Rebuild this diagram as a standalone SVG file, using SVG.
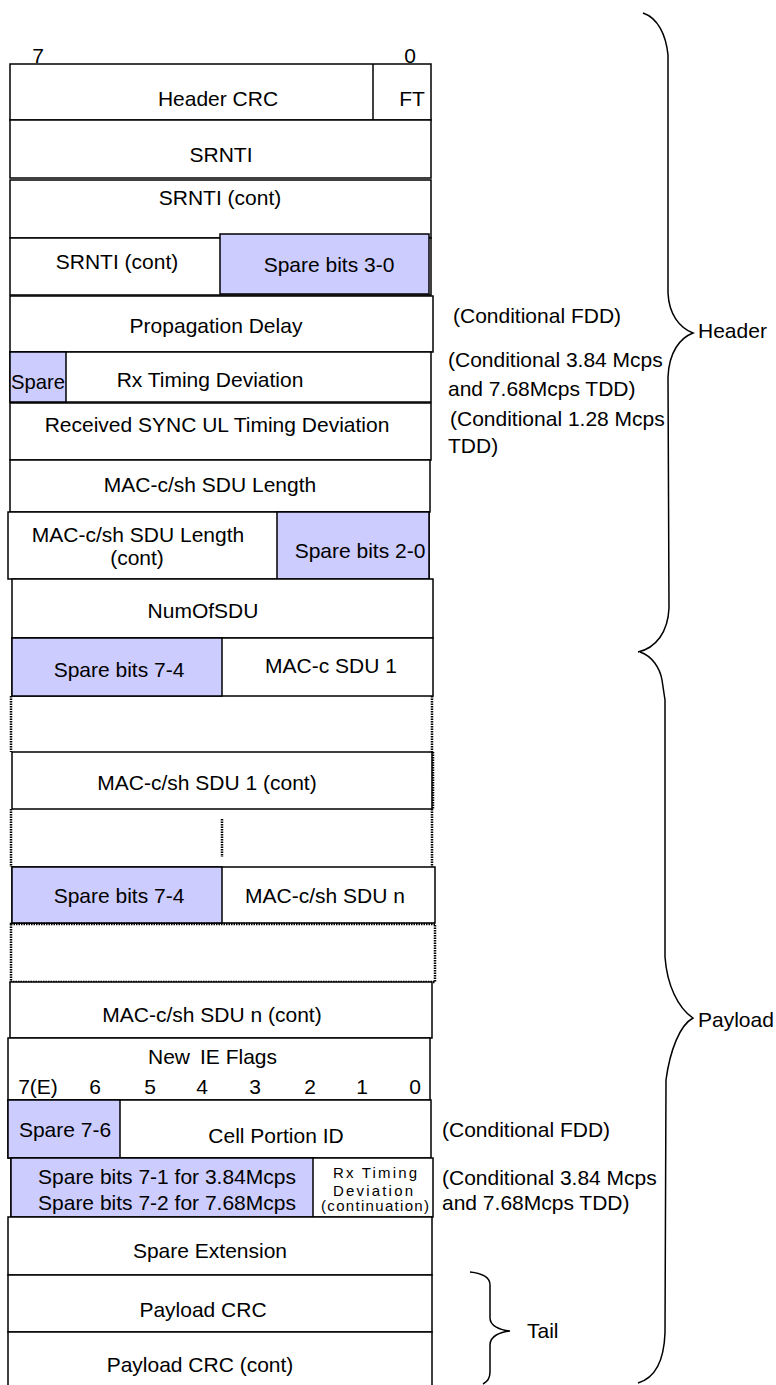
<svg xmlns="http://www.w3.org/2000/svg" width="776" height="1385" viewBox="0 0 776 1385">
<style>
text{font-family:"Liberation Sans",Arial,sans-serif;font-size:21px;fill:#000}
.m{text-anchor:middle}
.s{font-size:15px}
.b{fill:#fff;stroke:#000;stroke-width:1.5}
.sp{fill:#ccccff;stroke:#000;stroke-width:1.5}
.ln{stroke:#000;stroke-width:1.5;fill:none}
.dt{stroke:#000;stroke-width:2.5;stroke-dasharray:1.5 1;fill:none}
.br{stroke:#000;stroke-width:1.5;fill:none}
</style>
<rect width="776" height="1385" fill="#fff"/>
<g id="bitlabels">
<text x="38" y="63" class="m">7</text>
<text x="410" y="63" class="m">0</text>
</g>
<g id="row-header-crc">
<rect class="b" x="10" y="64" width="421" height="56"/>
<line class="ln" x1="373" y1="64" x2="373" y2="120"/>
<text x="218" y="106" class="m">Header CRC</text>
<text x="412" y="106" class="m">FT</text>
</g>
<g id="row-srnti">
<rect class="b" x="10" y="120" width="421" height="58"/>
<text x="221" y="162" class="m">SRNTI</text>
</g>
<g id="row-srnti-cont">
<rect class="b" x="10" y="180" width="421" height="58"/>
<text x="220" y="205" class="m">SRNTI (cont)</text>
</g>
<g id="row-srnti-cont2">
<rect class="b" x="10" y="238" width="421" height="57"/>
<rect class="sp" x="220" y="234" width="209" height="60"/>
<text x="117" y="269" class="m">SRNTI (cont)</text>
<text x="329" y="272" class="m">Spare bits 3-0</text>
</g>
<g id="row-prop-delay">
<rect class="b" x="10" y="296" width="423" height="56"/>
<text x="216" y="333" class="m">Propagation Delay</text>
</g>
<g id="row-rx-timing">
<rect class="b" x="10" y="352" width="421" height="50"/>
<rect class="sp" x="10" y="352" width="56" height="50"/>
<text x="38" y="389" class="m" textLength="54" lengthAdjust="spacingAndGlyphs">Spare</text>
<text x="210" y="387" class="m">Rx Timing Deviation</text>
</g>
<g id="row-sync-ul">
<rect class="b" x="10" y="403" width="421" height="57"/>
<text x="217" y="432" class="m">Received SYNC UL Timing Deviation</text>
</g>
<g id="row-sdu-length">
<rect class="b" x="10" y="460" width="420" height="52"/>
<text x="210" y="492" class="m">MAC-c/sh SDU Length</text>
</g>
<g id="row-sdu-length-cont">
<rect class="b" x="8" y="512" width="421" height="67"/>
<rect class="sp" x="277" y="512" width="152" height="67"/>
<text x="138" y="542" class="m">MAC-c/sh SDU Length</text>
<text x="137" y="565" class="m">(cont)</text>
<text x="360" y="558" class="m">Spare bits 2-0</text>
</g>
<g id="row-numofsdu">
<rect class="b" x="12" y="579" width="421" height="59"/>
<text x="203" y="618" class="m">NumOfSDU</text>
</g>
<g id="row-sdu1">
<rect class="b" x="12" y="638" width="421" height="58"/>
<rect class="sp" x="12" y="638" width="210" height="58"/>
<text x="119" y="677" class="m">Spare bits 7-4</text>
<text x="331" y="673" class="m">MAC-c SDU 1</text>
</g>
<g id="row-dots1">
<line class="dt" x1="11" y1="696" x2="11" y2="752"/>
<line class="dt" x1="432" y1="696" x2="432" y2="752"/>
</g>
<g id="row-sdu1-cont">
<rect class="b" x="12" y="752" width="420" height="57"/>
<line class="dt" x1="433" y1="752" x2="433" y2="809"/>
<text x="207" y="790" class="m">MAC-c/sh SDU 1 (cont)</text>
</g>
<g id="row-dots2">
<line class="dt" x1="11" y1="809" x2="11" y2="867"/>
<line class="dt" x1="432" y1="809" x2="432" y2="867"/>
<line class="dt" x1="222" y1="819" x2="222" y2="857"/>
</g>
<g id="row-sdun">
<rect class="b" x="12" y="867" width="423" height="56"/>
<rect class="sp" x="12" y="867" width="210" height="56"/>
<text x="119" y="903" class="m">Spare bits 7-4</text>
<text x="325" y="903" class="m">MAC-c/sh SDU n</text>
</g>
<g id="row-dots3">
<rect class="dt" x="11" y="924" width="424" height="58"/>
</g>
<g id="row-sdun-cont">
<rect class="b" x="10" y="982" width="422" height="56"/>
<text x="212" y="1022" class="m">MAC-c/sh SDU n (cont)</text>
</g>
<g id="row-new-ie-flags">
<rect class="b" x="8" y="1038" width="422" height="62"/>
<text y="1064"><tspan x="148">New</tspan><tspan x="200">IE Flags</tspan></text>
<text x="38" y="1094" class="m">7(E)</text>
<text x="95" y="1094" class="m">6</text>
<text x="150" y="1094" class="m">5</text>
<text x="202" y="1094" class="m">4</text>
<text x="255" y="1094" class="m">3</text>
<text x="310" y="1094" class="m">2</text>
<text x="362" y="1094" class="m">1</text>
<text x="415" y="1094" class="m">0</text>
</g>
<g id="row-cell-portion">
<rect class="b" x="8" y="1100" width="423" height="58"/>
<rect class="sp" x="8" y="1100" width="112" height="58"/>
<text x="65" y="1137" class="m">Spare 7-6</text>
<text x="276" y="1143" class="m">Cell Portion ID</text>
</g>
<g id="row-rx-cont">
<rect class="b" x="11" y="1158" width="422" height="59"/>
<rect class="sp" x="11" y="1158" width="302" height="59"/>
<text x="167" y="1184" class="m">Spare bits 7-1 for 3.84Mcps</text>
<text x="167" y="1210" class="m">Spare bits 7-2 for 7.68Mcps</text>
<text x="375" y="1178" class="m s" textLength="84" lengthAdjust="spacing">Rx Timing</text>
<text x="373" y="1196" class="m s" textLength="80" lengthAdjust="spacing">Deviation</text>
<text x="375" y="1211" class="m s" textLength="108" lengthAdjust="spacing">(continuation)</text>
</g>
<g id="row-spare-ext">
<rect class="b" x="8" y="1217" width="424" height="58"/>
<text x="210" y="1258" class="m">Spare Extension</text>
</g>
<g id="row-payload-crc">
<rect class="b" x="8" y="1275" width="424" height="57"/>
<text x="203" y="1317" class="m">Payload CRC</text>
</g>
<g id="row-payload-crc-cont">
<rect class="b" x="8" y="1332" width="424" height="60"/>
<text x="200" y="1372" class="m">Payload CRC (cont)</text>
</g>
<g id="notes">
<text x="453" y="323">(Conditional FDD)</text>
<text x="448" y="367">(Conditional 3.84 Mcps</text>
<text x="448" y="396">and 7.68Mcps TDD)</text>
<text x="450" y="426">(Conditional 1.28 Mcps</text>
<text x="448" y="453">TDD)</text>
<text x="442" y="1137">(Conditional FDD)</text>
<text x="442" y="1185">(Conditional 3.84 Mcps</text>
<text x="442" y="1210">and 7.68Mcps TDD)</text>
</g>
<g id="connectors">
<path class="br" d="M643,13 C658,18 666,35 668,55 L668,293 C669,315 680,328 693,333 C680,338 669,352 668,377 L669,608 C668,632 656,648 638,652"/>
<path class="br" d="M640,652 C652,656 660,668 662,680 L665,700 L665,957 C667,985 678,1008 693,1018 C680,1025 670,1050 666,1080 L665,1333 C664,1360 655,1378 638,1383"/>
<path class="br" d="M470,1272 C480,1273 490,1276 490,1285 L490,1318 C490,1326 500,1330 510,1331 C500,1332 490,1336 490,1345 L490,1372 C490,1378 487,1382 483,1384"/>
</g>
<g id="labels">
<text x="698" y="338">Header</text>
<text x="698" y="1027">Payload</text>
<text x="527" y="1338">Tail</text>
</g>
</svg>
